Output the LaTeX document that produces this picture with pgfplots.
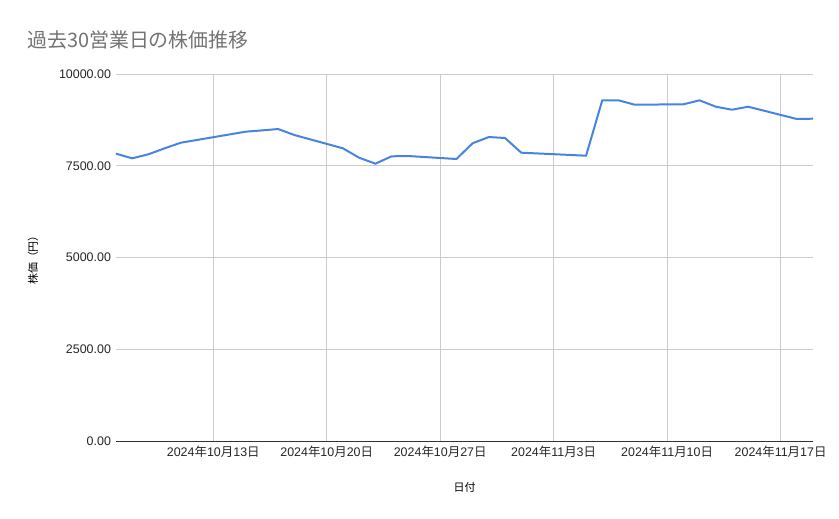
\documentclass[border=0pt]{standalone}
\usepackage{pgfplots}
\pgfplotsset{compat=1.18}
\usepackage{fontspec}
\setmainfont{Liberation Sans}
\newfontfamily\cjk{Noto Sans CJK JP}
\definecolor{series}{RGB}{70,132,225}
\definecolor{gridc}{RGB}{204,204,204}
\pgfplotstableread{
day price
0 7828
1 7703
2 7812
3 7975
4 8128
8 8428
9 8463
10 8501
11 8338
14 7975
15 7719
16 7556
17 7757
18 7766
21 7684
22 8112
23 8283
24 8256
25 7856
29 7774
30 9283
31 9283
32 9164
35 9174
36 9283
37 9109
38 9027
39 9109
42 8774
43 8782
}\prices
\begin{document}
\begin{tikzpicture}
\path[use as bounding box] (0bp,0bp) rectangle (839bp,-519bp);
\node[anchor=west, text=black!55, font=\fontsize{20}{24}\selectfont\cjk, inner sep=0pt] at (27bp,-40bp) {過去30営業日の株価推移};
\begin{axis}[
  at={(116bp,-441bp)}, anchor=south west,
  width=697bp, height=367bp, scale only axis,
  xmin=0, xmax=43, ymin=0, ymax=10000,
  xtick={6,13,20,27,34,41},
  xticklabels={
    2024{\cjk 年}10{\cjk 月}13{\cjk 日},
    2024{\cjk 年}10{\cjk 月}20{\cjk 日},
    2024{\cjk 年}10{\cjk 月}27{\cjk 日},
    2024{\cjk 年}11{\cjk 月}3{\cjk 日},
    2024{\cjk 年}11{\cjk 月}10{\cjk 日},
    2024{\cjk 年}11{\cjk 月}17{\cjk 日}},
  ytick={0,2500,5000,7500,10000},
  /pgf/number format/.cd, fixed, fixed zerofill, precision=2, 1000 sep={}, assume math mode=true,
  /pgfplots/.cd,
  scaled y ticks=false,
  grid=major,
  major grid style={draw=gridc, line width=0.8bp},
  major tick length=0pt,
  tick style={draw=none},
  axis x line*=bottom, axis y line*=left,
  x axis line style={draw=black!80, line width=1bp, -},
  y axis line style={draw=none},
  ticklabel style={font=\fontsize{12.5}{14}\selectfont, text=black!85},
  yticklabel style={xshift=-1.5bp},
  xticklabel style={yshift=-1.5bp},
  xlabel={\cjk 日付}, ylabel={\cjk 株価（円）},
  label style={font=\fontsize{11}{13}\selectfont, text=black},
  xlabel style={at={(axis description cs:0.5,-0.1253)}, anchor=center},
  ylabel style={at={(axis description cs:-0.119,0.5)}, anchor=center},
  clip=false,
]
\addplot[series, line width=2bp, no marks] table[x=day, y=price] {\prices};
\end{axis}
\end{tikzpicture}
\end{document}
